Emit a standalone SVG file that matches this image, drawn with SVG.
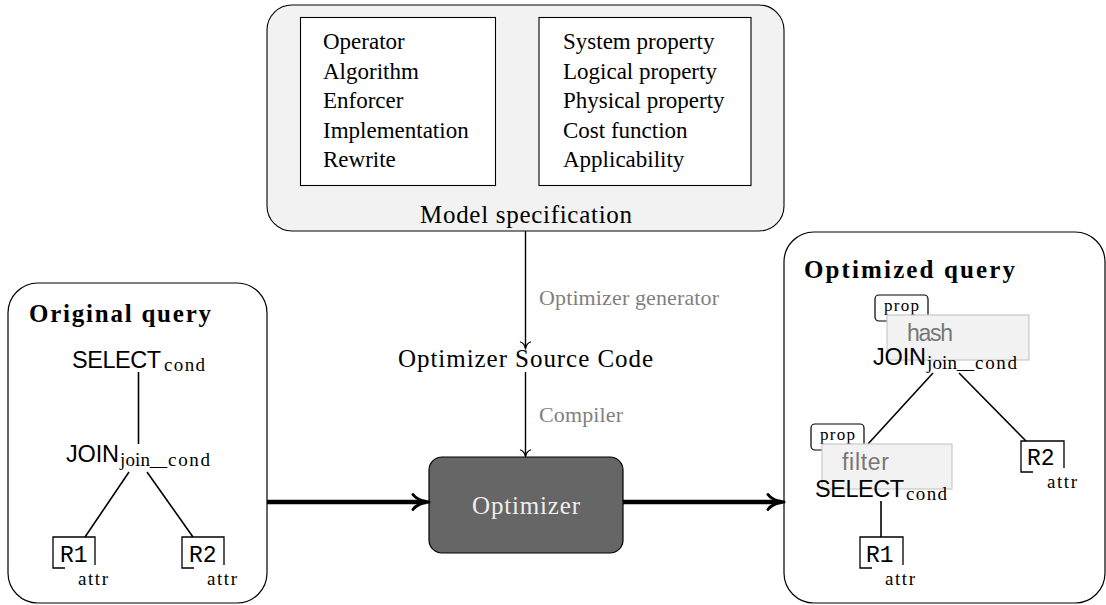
<svg xmlns="http://www.w3.org/2000/svg" width="1106" height="605" viewBox="0 0 1106 605">
  <style>
    .serif { font-family: "Liberation Serif", "Times New Roman", serif; fill: #000; }
    .sans { font-family: "Liberation Sans", Arial, sans-serif; fill: #000; }
    .mono { font-family: "Liberation Mono", "Courier New", monospace; fill: #000; }
    .list { font-size: 23px; }
    .title { font-size: 25px; font-weight: bold; }
    .big { font-size: 25px; }
    .label { font-size: 22px; fill: #808080; }
    .op { font-size: 23.5px; }
    .sub { font-size: 19px; }
    .rel { font-size: 23px; }
    .prop { font-size: 17px; }
    .ann { font-size: 23px; fill: #777777; }
    .frame { fill: #ffffff; stroke: #000; stroke-width: 1.2; }
    .edge { fill: none; stroke: #000; stroke-width: 1.6; }
    .relbox { fill: none; stroke: #000; stroke-width: 1.3; }
    .annbox { fill: #f2f2f2; stroke: #c8c8c8; stroke-width: 1.2; }
    .thin { fill: none; stroke: #000; stroke-width: 1.4; }
    .thick { fill: none; stroke: #000; stroke-width: 4.5; }
  </style>
  <defs>
    <marker id="head-thin" markerUnits="userSpaceOnUse" viewBox="-10 -7 12 14" markerWidth="12" markerHeight="14" refX="0" refY="0" orient="auto" overflow="visible">
      <path d="M-6,-5 C-5,-2 -2,-0.5 1,0 C-2,0.5 -5,2 -6,5" fill="none" stroke="#000" stroke-width="1.3" stroke-linecap="round" stroke-linejoin="round"/>
    </marker>
    <marker id="head-thick" markerUnits="userSpaceOnUse" viewBox="-20 -10 24 20" markerWidth="24" markerHeight="20" refX="0" refY="0" orient="auto" overflow="visible">
      <path d="M-13,-7.5 C-10,-3 -4,-0.8 3,0 C-4,0.8 -10,3 -13,7.5" fill="none" stroke="#000" stroke-width="3" stroke-linecap="round" stroke-linejoin="round"/>
    </marker>
  </defs>

  <!-- model specification panel -->
  <g id="model-spec">
    <rect x="267" y="5" width="517" height="226" rx="25" fill="#f2f2f2" stroke="#000" stroke-width="1.1"/>
    <rect x="300.5" y="17.5" width="195" height="168" fill="#fff" stroke="#000" stroke-width="1.1"/>
    <rect x="539" y="17.5" width="212" height="168" fill="#fff" stroke="#000" stroke-width="1.1"/>
    <text class="serif list" x="323" y="49">Operator</text>
    <text class="serif list" x="323" y="78.5">Algorithm</text>
    <text class="serif list" x="323" y="108">Enforcer</text>
    <text class="serif list" x="323" y="137.5">Implementation</text>
    <text class="serif list" x="323" y="167">Rewrite</text>
    <text class="serif list" x="563" y="49">System property</text>
    <text class="serif list" x="563" y="78.5">Logical property</text>
    <text class="serif list" x="563" y="108">Physical property</text>
    <text class="serif list" x="563" y="137.5">Cost function</text>
    <text class="serif list" x="563" y="167">Applicability</text>
    <text class="serif big" x="526" y="223" text-anchor="middle" textLength="212">Model specification</text>
  </g>

  <!-- generated source code -->
  <g id="source-code">
    <text class="serif big" x="525.5" y="367" text-anchor="middle" textLength="255">Optimizer Source Code</text>
  </g>

  <!-- compiled optimizer -->
  <g id="optimizer">
    <rect x="429" y="457" width="194" height="96" rx="13" fill="#666666" stroke="#000" stroke-width="1.2"/>
    <text class="serif big" x="526" y="514" text-anchor="middle" textLength="108" style="fill:#eeeeee">Optimizer</text>
  </g>

  <!-- input query tree -->
  <g id="original-query">
    <rect class="frame" x="8" y="283" width="259" height="320" rx="30"/>
    <text class="serif title" x="29" y="322" textLength="182">Original query</text>
    <line class="edge" x1="138.5" y1="372" x2="138.5" y2="444"/>
    <line class="edge" x1="129" y1="472" x2="85" y2="537"/>
    <line class="edge" x1="147" y1="472" x2="193" y2="537"/>
    <text class="sans op" x="72" y="368" textLength="89">SELECT</text>
    <text class="serif sub" x="164" y="371" textLength="41">cond</text>
    <text class="sans op" x="66" y="462" textLength="53">JOIN</text>
    <text class="serif sub" y="466"><tspan x="120" textLength="30">join</tspan><tspan x="150" textLength="17" lengthAdjust="spacingAndGlyphs">_</tspan><tspan x="168" textLength="42">cond</tspan></text>
    <path class="relbox" d="M95,565 V537 H53 V568 H65"/>
    <text class="mono rel" x="60" y="562">R1</text>
    <text class="serif sub" x="78" y="585" textLength="30">attr</text>
    <path class="relbox" d="M224,565 V537 H182 V568 H194"/>
    <text class="mono rel" x="189" y="562">R2</text>
    <text class="serif sub" x="207" y="585" textLength="30">attr</text>
  </g>

  <!-- rewritten query tree with physical properties -->
  <g id="optimized-query">
    <rect class="frame" x="784" y="232" width="321" height="371" rx="30"/>
    <text class="serif title" x="804" y="278" textLength="211">Optimized query</text>
    <line class="edge" x1="933" y1="373" x2="868" y2="444"/>
    <line class="edge" x1="959" y1="373" x2="1026" y2="441"/>
    <line class="edge" x1="881" y1="501" x2="881" y2="537"/>
    <rect class="frame" x="875" y="295" width="53" height="26" rx="4"/>
    <text class="serif prop" x="901.5" y="311" text-anchor="middle" textLength="35">prop</text>
    <rect class="annbox" x="887" y="315" width="142" height="45"/>
    <text class="sans ann" x="907" y="341" textLength="46">hash</text>
    <text class="sans op" x="873" y="365" textLength="53">JOIN</text>
    <text class="serif sub" y="369"><tspan x="927" textLength="30">join</tspan><tspan x="957" textLength="17" lengthAdjust="spacingAndGlyphs">_</tspan><tspan x="975" textLength="42">cond</tspan></text>
    <rect class="frame" x="811" y="424" width="53" height="26" rx="4"/>
    <text class="serif prop" x="837.5" y="440" text-anchor="middle" textLength="35">prop</text>
    <rect class="annbox" x="822" y="444" width="130" height="45"/>
    <text class="sans ann" x="842" y="470" textLength="47">filter</text>
    <text class="sans op" x="815" y="497" textLength="89">SELECT</text>
    <text class="serif sub" x="906" y="500" textLength="41">cond</text>
    <path class="relbox" d="M903,565 V537 H860 V568 H872"/>
    <text class="mono rel" x="866" y="562">R1</text>
    <text class="serif sub" x="885" y="585" textLength="30">attr</text>
    <path class="relbox" d="M1064,468 V441 H1021 V472 H1033"/>
    <text class="mono rel" x="1027" y="465">R2</text>
    <text class="serif sub" x="1047" y="488" textLength="30">attr</text>
  </g>

  <!-- connectors -->
  <g id="connectors">
    <line class="thin" x1="525.5" y1="231" x2="525.5" y2="348" marker-end="url(#head-thin)"/>
    <text class="serif label" x="539" y="305" textLength="180">Optimizer generator</text>
    <line class="thin" x1="525.5" y1="372" x2="525.5" y2="456" marker-end="url(#head-thin)"/>
    <text class="serif label" x="539" y="422" textLength="84">Compiler</text>
    <line class="thick" x1="267" y1="502" x2="426" y2="502" marker-end="url(#head-thick)"/>
    <line class="thick" x1="623" y1="502" x2="781" y2="502" marker-end="url(#head-thick)"/>
  </g>
</svg>
